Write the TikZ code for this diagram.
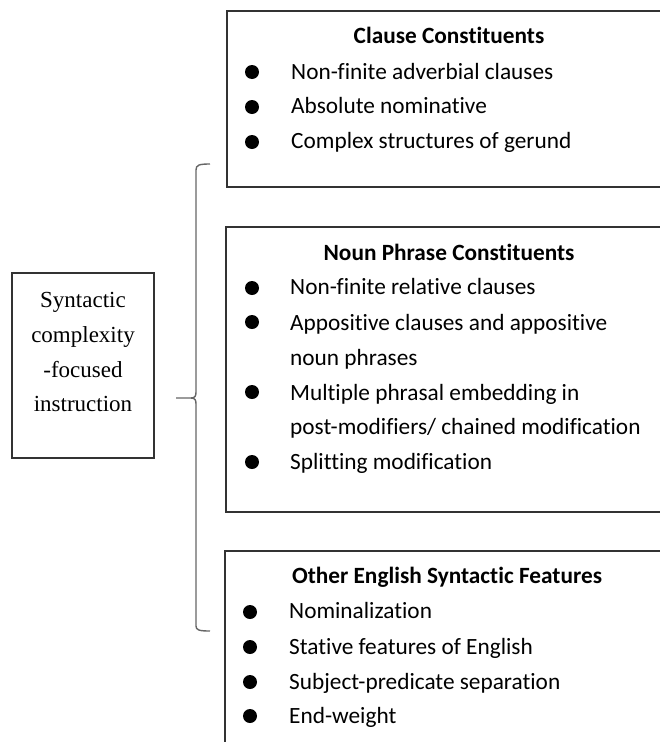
\documentclass[tikz,border=0pt]{standalone}
\usepackage{fontspec}
\setmainfont{Liberation Serif}
\newfontfamily\calibri[Ligatures={NoCommon,NoContextual}]{Carlito}
\usetikzlibrary{positioning}

\tikzset{
  frame/.style={draw=black!80, line width=1.3pt},
  brace/.style={draw=black!60, line width=1.4pt},
  head/.style={anchor=base, inner sep=0pt, font=\calibri\bfseries\fontsize{23.3}{28}\selectfont},
  item/.style={anchor=base west, inner sep=0pt, font=\calibri\fontsize{23.3}{28}\selectfont},
  dot/.style={circle, fill=black, inner sep=0pt, minimum size=14pt},
  topictext/.style={anchor=base, inner sep=0pt, font=\fontsize{23}{28}\selectfont}
}

\begin{document}
\begin{tikzpicture}[x=1pt,y=-1pt]
        \useasboundingbox (0,0) rectangle (660,742);
        % left box
        \node[frame, minimum width=142pt, minimum height=185pt, inner sep=0pt] (topic) at (83,365.5) {};
        \node[topictext] (t1) at (83,307) {Syntactic};
        \node[topictext] (t2) at (83,342) {complexity};
        \node[topictext] (t3) at (83,377) {-focused};
        \node[topictext] (t4) at (83,411) {instruction};
        % brace
        \coordinate (tip) at (176,398);
        \draw[brace] (210,164) .. controls (199,164) and (196,165) .. (196,170) -- (196,392)
                .. controls (196,396) and (195,398) .. (191,398) -- (tip);
        \draw[brace] (191,398) .. controls (195,398) and (196,400) .. (196,404) -- (196,626)
                .. controls (196,630) and (199,631) .. (210,631);
        % boxes (open to the right)
        \draw[frame] (670,11) -- (227,11) -- (227,187) -- (670,187);
        \draw[frame] (670,227) -- (226,227) -- (226,512) -- (670,512);
        \draw[frame] (670,551) -- (225,551) -- (225,750);
        % clause constituents
        \node[head] (h1) at (449,43) {Clause Constituents};
        \node[dot] (d11) at (252,72) {};
        \node[dot] (d12) at (252,107) {};
        \node[dot] (d13) at (252,142) {};
        \node[item] (i11) at (291,79) {Non-finite adverbial clauses};
        \node[item] (i12) at (291,113.5) {Absolute nominative};
        \node[item] (i13) at (291,148) {Complex structures of gerund};
        % noun phrase constituents
        \node[head] (h2) at (449,260) {Noun Phrase Constituents};
        \node[dot] (d21) at (252,288) {};
        \node[dot] (d22) at (252,322) {};
        \node[dot] (d23) at (252,392) {};
        \node[dot] (d24) at (252,462) {};
        \node[item] (i21) at (290,294) {Non-finite relative clauses};
        \node[item] (i22) at (290,330) {Appositive clauses and appositive};
        \node[item] (i22b) at (290,365) {noun phrases};
        \node[item] (i23) at (290,400) {Multiple phrasal embedding in};
        \node[item] (i23b) at (290,434) {post-modifiers/ chained modification};
        \node[item] (i24) at (290,469) {Splitting modification};
        % other features
        \node[head] (h3) at (447,583) {Other English Syntactic Features};
        \node[dot] (d31) at (250,612) {};
        \node[dot] (d32) at (250,647) {};
        \node[dot] (d33) at (250,682) {};
        \node[dot] (d34) at (250,716) {};
        \node[item] (i31) at (289,618) {Nominalization};
        \node[item] (i32) at (289,654) {Stative features of English};
        \node[item] (i33) at (289,689) {Subject-predicate separation};
        \node[item] (i34) at (289,723) {End-weight};
\end{tikzpicture}
\end{document}
